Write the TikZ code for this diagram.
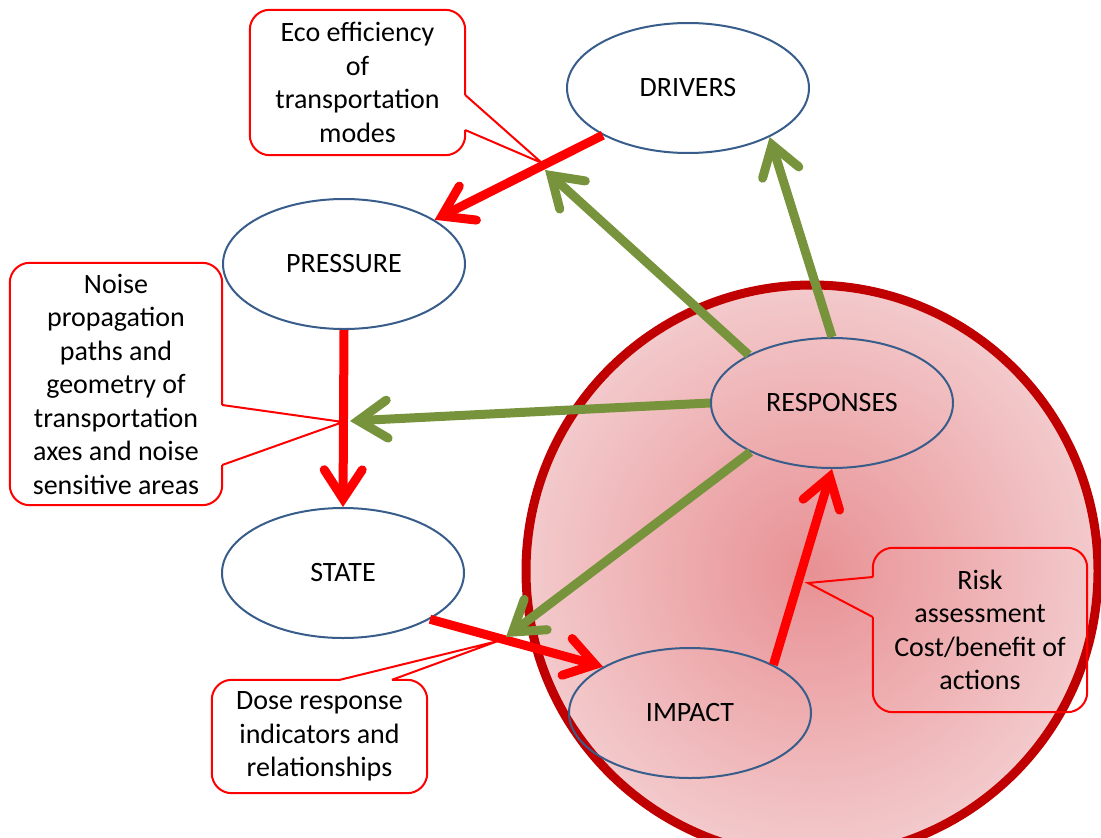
\documentclass[tikz,border=0pt]{standalone}
\usepackage{fontspec}
\setmainfont{Carlito}
\usetikzlibrary{shapes.geometric,arrows.meta}
\definecolor{cred}{RGB}{255,0,0}
\definecolor{cgreen}{RGB}{119,147,60}
\definecolor{cdark}{RGB}{192,0,0}
\definecolor{cblue}{RGB}{56,93,138}
\definecolor{cin}{RGB}{232,145,148}
\definecolor{cout}{RGB}{243,202,204}
\begin{document}
\begin{tikzpicture}[x=1pt,y=-1pt,
  every node/.style={font=\fontsize{28}{33.5}\selectfont, text=black},
  oval/.style={ellipse, draw=cblue, line width=2pt, minimum width=242pt, minimum height=130pt, inner sep=0pt},
  whiteoval/.style={oval, fill=white},
  callbox/.style={rounded corners=20pt, align=center, inner sep=0pt},
  callline/.style={draw=cred, line width=2pt, rounded corners=20pt},
  ptrline/.style={draw=cred, line width=2pt, line join=miter},
  head/.style={-{Straight Barb[length=29pt,width=38pt,line cap=round,line join=miter]}, line width=9pt},
  redarrow/.style={head, draw=cred},
  greenarrow/.style={head, draw=cgreen},
]
\useasboundingbox (0,0) rectangle (1101,838);
% big circle
\shade[inner color=cin, outer color=cout] (812,571) circle (286pt);
\draw[cdark, line width=9pt] (812,571) circle (286pt);

% tip coordinates
\coordinate (ecotip) at (542,163);
\coordinate (noisetip) at (343,422);
\coordinate (dosetip) at (498,641);
\coordinate (risktip) at (808,583);
\coordinate (g1) at (545,170);
\coordinate (g2) at (350,421);
\coordinate (g3) at (506,637);

% callout: Eco
\node[callbox, fill=white, minimum width=215pt, minimum height=145pt] (eco) at (357.5,82.5)
  {Eco efficiency\\of\\transportation\\modes};
\fill[white] (eco.east |- 0,95) -- (ecotip) -- (eco.east |- 0,130) -- cycle;
\draw[callline] (eco.east |- 0,130) -- (eco.south east) -- (eco.south west) -- (eco.north west) -- (eco.north east) -- (eco.east |- 0,95);
\draw[ptrline] (eco.east |- 0,95) -- (ecotip) -- (eco.east |- 0,130);

% callout: Noise
\node[callbox, fill=white, minimum width=212pt, minimum height=242pt] (noise) at (116,384)
  {Noise\\propagation\\paths and\\geometry of\\transportation\\axes and noise\\sensitive areas};
\fill[white] (noise.east |- 0,405) -- (noisetip) -- (noise.east |- 0,465) -- cycle;
\draw[callline] (noise.east |- 0,465) -- (noise.south east) -- (noise.south west) -- (noise.north west) -- (noise.north east) -- (noise.east |- 0,405);
\draw[ptrline] (noise.east |- 0,405) -- (noisetip) -- (noise.east |- 0,465);

% callout: Dose
\node[callbox, fill=white, minimum width=215pt, minimum height=113pt] (dose) at (319.5,736.5)
  {Dose response\\indicators and\\relationships};
\fill[white] (dose.north -| 340,0) -- (dosetip) -- (dose.north -| 392,0) -- cycle;
\draw[callline] (dose.north -| 392,0) -- (dose.north east) -- (dose.south east) -- (dose.south west) -- (dose.north west) -- (dose.north -| 340,0);
\draw[ptrline] (dose.north -| 340,0) -- (dosetip) -- (dose.north -| 392,0);

% callout: Risk
\node[callbox, minimum width=214pt, minimum height=164pt] (risk) at (980,630)
  {Risk\\assessment\\Cost/benefit of\\actions};
\draw[callline] (risk.west |- 0,577) -- (risk.north west) -- (risk.north east) -- (risk.south east) -- (risk.south west) -- (risk.west |- 0,617);
\draw[ptrline] (risk.west |- 0,577) -- (risktip) -- (risk.west |- 0,617);

% ellipses
\node[whiteoval] (drivers) at (688,88) {DRIVERS};
\node[whiteoval] (pressure) at (344,264) {PRESSURE};
\node[whiteoval] (state) at (343,573) {STATE};
\node[oval] (responses) at (832,403) {RESPONSES};
\node[oval] (impact) at (690,713) {IMPACT};

% arrows
\draw[redarrow] (drivers.209) -- (pressure.26);
\draw[redarrow] (pressure.south) -- (state.north);
\draw[redarrow] (state.-28) -- (impact.152);
\draw[redarrow] (impact.30) -- (responses.south);
\draw[greenarrow] (responses.north) -- (drivers.-31);
\draw[greenarrow] (responses.150) -- (g1);
\draw[greenarrow] (responses.west) -- (g2);
\draw[greenarrow] (responses.211) -- (g3);
\end{tikzpicture}
\end{document}
